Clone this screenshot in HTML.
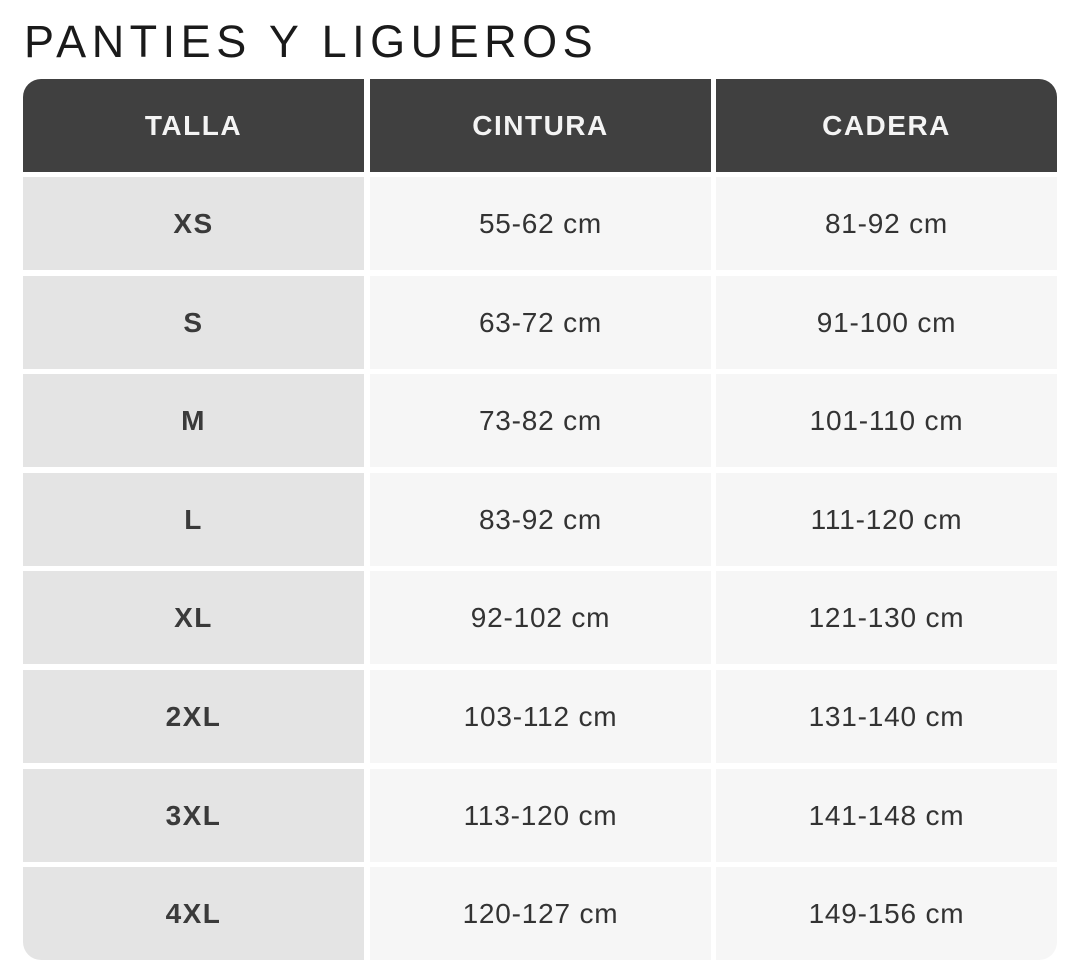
<!DOCTYPE html>
<html><head><meta charset="utf-8"><style>
body{margin:0;width:1080px;height:978px;background:#fff;position:relative;font-family:"Liberation Sans",sans-serif;overflow:hidden}
.t{position:absolute;left:24px;top:14px;font-size:45px;letter-spacing:5.5px;color:#1a1a1a;font-weight:normal;line-height:56px}
.c{position:absolute;display:flex;align-items:center;justify-content:center;font-size:28px;color:#333;letter-spacing:0.8px}
.h{background:#404040;color:#f4f4f4;font-weight:bold;font-size:28px;top:79px;height:93px;letter-spacing:1.5px}
.a{background:#e4e4e4;font-weight:bold;color:#3a3a3a;letter-spacing:1.5px}
.b{background:#f6f6f6}
</style></head><body>
<div class="t">PANTIES Y LIGUEROS</div>
<div class="c h" style="left:23px;width:341px;border-top-left-radius:18px">TALLA</div>
<div class="c h" style="left:370px;width:341px">CINTURA</div>
<div class="c h" style="left:716px;width:341px;border-top-right-radius:18px">CADERA</div>
<div id="rows"></div>
<script>
var d=[["XS","55-62 cm","81-92 cm"],["S","63-72 cm","91-100 cm"],["M","73-82 cm","101-110 cm"],["L","83-92 cm","111-120 cm"],["XL","92-102 cm","121-130 cm"],["2XL","103-112 cm","131-140 cm"],["3XL","113-120 cm","141-148 cm"],["4XL","120-127 cm","149-156 cm"]];
var h="";
d.forEach(function(r,i){var t=Math.round(177+i*98.6);var last=i==7;
h+='<div class="c a" style="left:23px;width:341px;top:'+t+'px;height:93px;'+(last?'border-bottom-left-radius:18px':'')+'">'+r[0]+'</div>';
h+='<div class="c b" style="left:370px;width:341px;top:'+t+'px;height:93px">'+r[1]+'</div>';
h+='<div class="c b" style="left:716px;width:341px;top:'+t+'px;height:93px;'+(last?'border-bottom-right-radius:18px':'')+'">'+r[2]+'</div>';});
document.getElementById("rows").innerHTML=h;
</script>
</body></html>
